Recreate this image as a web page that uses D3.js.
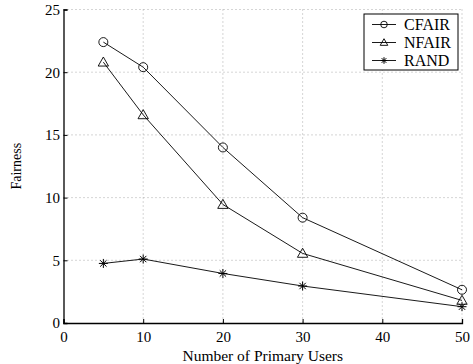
<!DOCTYPE html>
<html>
<head>
<meta charset="utf-8">
<script src="https://cdn.jsdelivr.net/npm/d3@7"></script>
<style>
body { margin: 0; background: #fff; }
</style>
</head>
<body>
<script>
// data
var users = [5, 10, 20, 30, 50];
var cfair = [22.4, 20.4, 14.0, 8.4, 2.65];
var nfair = [20.8, 16.6, 9.45, 5.55, 1.8];
var rand = [4.75, 5.1, 3.95, 2.95, 1.3];
var xTicks = [0, 10, 20, 30, 40, 50];
var yTicks = [0, 5, 10, 15, 20, 25];

var seriesList = [
  {name: "CFAIR", values: cfair, marker: "circle"},
  {name: "NFAIR", values: nfair, marker: "triangle"},
  {name: "RAND", values: rand, marker: "star"}
];

var serif = "Liberation Serif";

var margin = {top: 9.5, right: 11, bottom: 41, left: 63.5},
    width = 473 - margin.left - margin.right,
    height = 364 - margin.top - margin.bottom;

var x = d3.scaleLinear().domain([0, 50]).range([0, width]);
var y = d3.scaleLinear().domain([0, 25]).range([height, 0]);

var svg = d3.select("body").append("svg")
    .attr("width", 473)
    .attr("height", 364)
  .append("g")
    .attr("transform", "translate(" + margin.left + "," + margin.top + ")");

// dotted grid
svg.selectAll(".vgrid")
    .data(xTicks.slice(1))
    .enter().append("line")
    .attr("x1", function(d) { return x(d); })
    .attr("x2", function(d) { return x(d); })
    .attr("y1", 0).attr("y2", height)
    .attr("stroke", "#888").attr("stroke-width", 0.7)
    .attr("stroke-dasharray", "1,3");
svg.selectAll(".hgrid")
    .data(yTicks.slice(1))
    .enter().append("line")
    .attr("x1", 0).attr("x2", width)
    .attr("y1", function(d) { return y(d); })
    .attr("y2", function(d) { return y(d); })
    .attr("stroke", "#888").attr("stroke-width", 0.7)
    .attr("stroke-dasharray", "1,3");

// axes, inward ticks
var xAxis = svg.append("g")
    .attr("transform", "translate(0," + height + ")")
    .call(d3.axisBottom(x).tickValues(xTicks).tickSize(-4).tickPadding(8));
var yAxis = svg.append("g")
    .call(d3.axisLeft(y).tickValues(yTicks).tickSize(-4).tickPadding(3.5));
[xAxis, yAxis].forEach(function(a) {
  a.attr("font-family", serif).attr("font-size", 15);
  a.select(".domain").attr("stroke", "#000").attr("stroke-width", 1.3);
  a.selectAll(".tick line").attr("stroke", "#000");
  a.selectAll(".tick text").attr("fill", "#000");
});

var line = d3.line()
    .x(function(d, i) { return x(users[i]); })
    .y(function(d) { return y(d); });

function drawMarker(g, type, cx, cy, s) {
  if (type === "circle") {
    g.append("circle").attr("cx", cx).attr("cy", cy).attr("r", s)
      .attr("fill", "none").attr("stroke", "#000").attr("stroke-width", 0.9);
  } else if (type === "triangle") {
    var h = s * 1.15;
    g.append("path")
      .attr("d", "M" + cx + "," + (cy - h) + "L" + (cx + h) + "," + (cy + h * 0.75) +
                 "L" + (cx - h) + "," + (cy + h * 0.75) + "Z")
      .attr("fill", "none").attr("stroke", "#000").attr("stroke-width", 0.9);
  } else {
    [0, 45, 90, 135].forEach(function(a) {
      var r = a * Math.PI / 180;
      g.append("line")
        .attr("x1", cx - s * Math.cos(r)).attr("y1", cy - s * Math.sin(r))
        .attr("x2", cx + s * Math.cos(r)).attr("y2", cy + s * Math.sin(r))
        .attr("stroke", "#000").attr("stroke-width", 1);
    });
  }
}

seriesList.forEach(function(s) {
  svg.append("path")
    .datum(s.values)
    .attr("fill", "none")
    .attr("stroke", "#000")
    .attr("stroke-width", 0.9)
    .attr("d", line);
  s.values.forEach(function(v, i) {
    drawMarker(svg, s.marker, x(users[i]), y(v), 4.5);
  });
});

// legend
var legend = svg.append("g").attr("transform", "translate(" + (364 - margin.left) + "," + (14 - margin.top) + ")");
legend.append("rect")
  .attr("width", 94).attr("height", 56)
  .attr("fill", "#fff").attr("stroke", "#000").attr("stroke-width", 1);
seriesList.forEach(function(s, i) {
  var ly = 10.5 + i * 18;
  legend.append("line")
    .attr("x1", 8).attr("x2", 32).attr("y1", ly).attr("y2", ly)
    .attr("stroke", "#000").attr("stroke-width", 0.9);
  drawMarker(legend, s.marker, 20, ly, 3.3);
  legend.append("text")
    .attr("x", 40).attr("y", ly + 5.5)
    .attr("font-family", serif)
    .attr("font-size", 16)
    .text(s.name);
});

// axis titles
svg.append("text")
  .attr("x", width / 2)
  .attr("y", height + 38)
  .attr("text-anchor", "middle")
  .attr("font-family", serif)
  .attr("font-size", 15.5)
  .text("Number of Primary Users");
svg.append("text")
  .attr("transform", "translate(" + (-43) + "," + (height / 2) + ") rotate(-90)")
  .attr("text-anchor", "middle")
  .attr("font-family", serif)
  .attr("font-size", 14)
  .text("Fairness");
</script>
</body>
</html>
